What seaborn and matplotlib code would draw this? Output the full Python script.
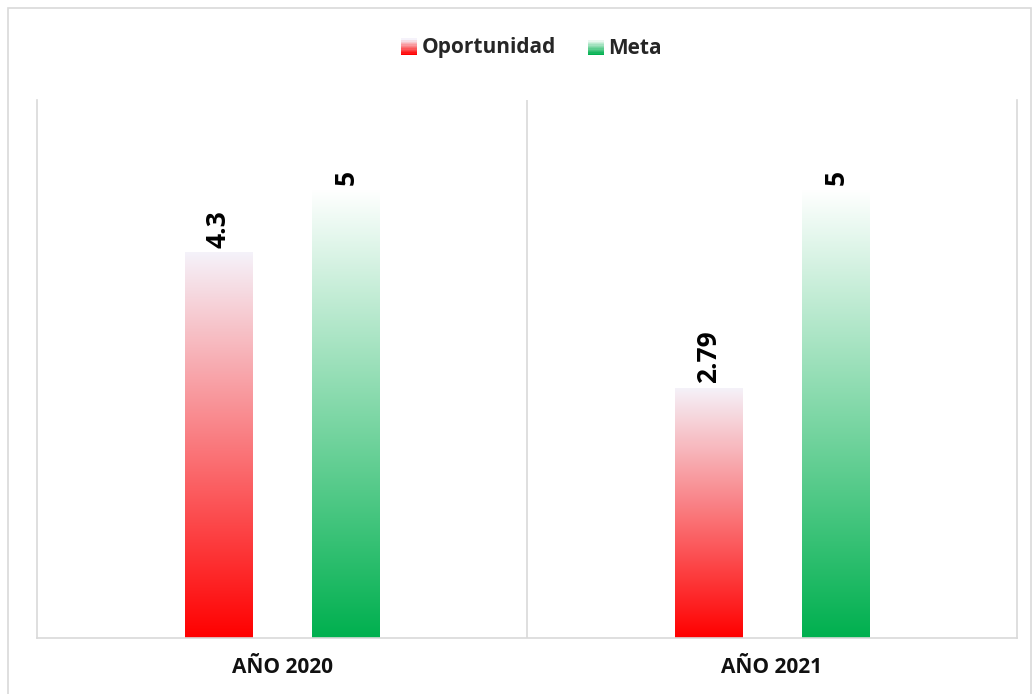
import numpy as np
import pandas as pd
import matplotlib
matplotlib.use('Agg')
import matplotlib.pyplot as plt
import seaborn as sns
from matplotlib.patches import Rectangle
from matplotlib.colors import LinearSegmentedColormap
from matplotlib.legend_handler import HandlerBase

# datos
anios = ['AÑO 2020', 'AÑO 2021']
oportunidad = [4.3, 2.79]
meta = [5, 5]
series = ['Oportunidad', 'Meta']

df = pd.DataFrame({
    'anio': anios * 2,
    'serie': ['Oportunidad'] * 2 + ['Meta'] * 2,
    'valor': oportunidad + meta,
})

# colores de degradado (abajo -> arriba)
bottom_cols = {'Oportunidad': (1.0, 0.0, 0.0), 'Meta': (0.0, 0.69, 0.31)}
top_cols = {'Oportunidad': (0.96, 0.95, 0.98), 'Meta': (1.0, 1.0, 1.0)}
cmaps = {s: LinearSegmentedColormap.from_list(s, [bottom_cols[s], top_cols[s]]) for s in series}

sns.set_style('white')
plt.rcParams['font.family'] = ['Open Sans', 'DejaVu Sans']

fig = plt.figure(figsize=(10.34, 6.94), dpi=100)
ax = fig.add_axes([37 / 1034, 1 - 638 / 694, (1017 - 37) / 1034, (638 - 100) / 694])

sns.barplot(data=df, x='anio', y='valor', hue='serie', hue_order=series,
            width=0.52, gap=0.47, palette=[bottom_cols[s] for s in series],
            ax=ax, legend=False)

ax.set_ylim(0, 6)
ax.set_xlim(-0.5, 1.5)

# degradado en cada barra
grad = np.linspace(0, 1, 256).reshape(-1, 1)
for cont, s in zip(ax.containers, series):
    for patch in cont:
        x0, y0 = patch.get_x(), patch.get_y()
        w, h = patch.get_width(), patch.get_height()
        im = ax.imshow(grad, cmap=cmaps[s], origin='lower', aspect='auto',
                       extent=[x0, x0 + w, y0, y0 + h], zorder=2)
        im.set_clip_path(patch)
        patch.set_facecolor('none')
        patch.set_edgecolor('none')
        ax.text(x0 + w / 2, h + 0.05, f'{h:g}', rotation=90, ha='center', va='bottom',
                fontsize=19, fontweight='bold', color='black', zorder=3)

ax.set_xlim(-0.5, 1.5)
ax.set_ylim(0, 6)
ax.set_xlabel('')
ax.set_ylabel('')
ax.set_yticks([])
ax.tick_params(axis='x', length=0, pad=14)
for lbl in ax.get_xticklabels():
    lbl.set_fontsize(15)
    lbl.set_fontweight('bold')
    lbl.set_color('#111111')

for side in ['left', 'right', 'bottom']:
    ax.spines[side].set_color('#d9d9d9')
    ax.spines[side].set_linewidth(1.2)
ax.spines['top'].set_visible(False)
ax.axvline(0.5, color='#d9d9d9', lw=1.2)


# leyenda con cuadros en degradado
class GradHandler(HandlerBase):
    def __init__(self, serie):
        super().__init__()
        self.serie = serie

    def create_artists(self, legend, orig_handle, xdescent, ydescent, width, height, fontsize, trans):
        n = 12
        arts = []
        size = height * 1.1
        x = xdescent + width - size
        for i in range(n):
            c = cmaps[self.serie](i / (n - 1))
            arts.append(Rectangle((x, -ydescent + size * i / n - 1), size, size / n + 0.3,
                                  facecolor=c, edgecolor='none', transform=trans))
        return arts


handles = [Rectangle((0, 0), 1, 1) for _ in series]
leg = fig.legend(handles, series, loc='center', bbox_to_anchor=(530 / 1034, 1 - 48 / 694),
                 ncol=2, frameon=False, handler_map={h: GradHandler(s) for h, s in zip(handles, series)},
                 prop={'weight': 'bold', 'size': 15},
                 handlelength=0.9, handletextpad=0.2, columnspacing=1.4)

# marco de la figura
fig.patches.append(Rectangle((8 / 1034, -0.05), (1031 - 8) / 1034, 1.05 - 8 / 694, transform=fig.transFigure,
                             fill=False, edgecolor='#d9d9d9', lw=1.2))

fig.savefig('out.png', dpi=100)
